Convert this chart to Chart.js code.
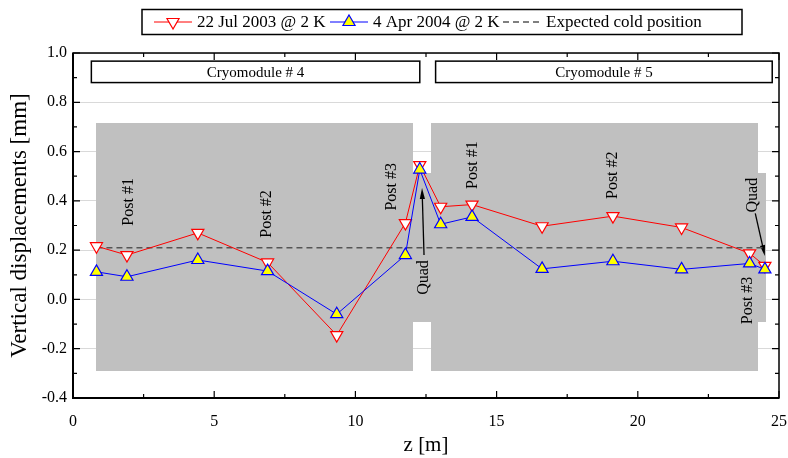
<!DOCTYPE html>
<html>
<head>
<meta charset="utf-8">
<script src="https://cdn.jsdelivr.net/npm/chart.js@4.4.1/dist/chart.umd.min.js"></script>
<style>
  html, body { margin: 0; padding: 0; background: #fff; }
  #wrap { width: 788px; height: 458px; }
</style>
</head>
<body>
<div id="wrap"><canvas id="chart" width="788" height="458"></canvas></div>
<script>
// positions along the string (m) - both measurements share them
const zPos = [0.83, 1.91, 4.42, 6.89, 9.34, 11.77, 12.28, 13.02, 14.13, 16.61, 19.12, 21.55, 23.96, 24.50];
const jul2003 = [0.216, 0.18, 0.27, 0.15, -0.145, 0.31, 0.545, 0.376, 0.385, 0.297, 0.338, 0.292, 0.187, 0.136];
const apr2004 = [0.112, 0.092, 0.16, 0.115, -0.06, 0.18, 0.527, 0.305, 0.335, 0.124, 0.155, 0.122, 0.146, 0.122];
const expectedZ = [0.83, 24.5];
const expectedDisp = [0.21, 0.21];
const seriesLabels = ['22 Jul 2003 @ 2 K', '4 Apr 2004 @ 2 K', 'Expected cold position'];

const xTicks = [0, 5, 10, 15, 20, 25];
const yTicks = [-0.4, -0.2, 0, 0.2, 0.4, 0.6, 0.8, 1.0];

// grey shaded cryomodule / quad regions (data units)
const blockStart = [0.83, 12.04, 12.66, 24.25];
const blockEnd = [12.04, 12.67, 24.25, 24.53];
const blockBottom = [-0.29, -0.091, -0.29, -0.091];
const blockTop = [0.714, 0.512, 0.714, 0.512];

const moduleNames = ['Cryomodule # 4', 'Cryomodule # 5'];
const moduleStart = [0.65, 12.84];
const moduleEnd = [12.28, 24.76];
const moduleBottom = 0.88;
const moduleTop = 0.967;

const notes = [
  { text: 'Post #1', z: 1.95, v: 0.396 },
  { text: 'Post #2', z: 6.81, v: 0.347 },
  { text: 'Post #3', z: 11.27, v: 0.457 },
  { text: 'Quad', z: 12.38, v: 0.089 },
  { text: 'Post #1', z: 14.13, v: 0.545 },
  { text: 'Post #2', z: 19.07, v: 0.504 },
  { text: 'Quad', z: 24.03, v: 0.423 },
  { text: 'Post #3', z: 23.86, v: -0.004 },
];
const arrows = [
  { from: [12.43, 0.18], to: [12.36, 0.452] },
  { from: [24.16, 0.349], to: [24.50, 0.176] },
];

const FONT = '"Liberation Serif", "Times New Roman", serif';

const toPoints = (xs, ys) => xs.map((x, i) => ({ x, y: ys[i] }));

function drawArrow(ctx, x1, y1, x2, y2) {
  const ang = Math.atan2(y2 - y1, x2 - x1);
  const len = 11, half = 2.6;
  ctx.beginPath();
  ctx.moveTo(x1, y1);
  ctx.lineTo(x2 - Math.cos(ang) * len * 0.8, y2 - Math.sin(ang) * len * 0.8);
  ctx.stroke();
  ctx.beginPath();
  ctx.moveTo(x2, y2);
  ctx.lineTo(x2 - Math.cos(ang) * len + Math.sin(ang) * half, y2 - Math.sin(ang) * len - Math.cos(ang) * half);
  ctx.lineTo(x2 - Math.cos(ang) * len - Math.sin(ang) * half, y2 - Math.sin(ang) * len + Math.cos(ang) * half);
  ctx.closePath();
  ctx.fill();
}

const backdrop = {
  id: 'backdrop',
  beforeDatasetsDraw(chart) {
    const { ctx, scales: { x, y } } = chart;
    ctx.save();
    ctx.fillStyle = '#c0c0c0';
    blockStart.forEach((s, i) => {
      const l = Math.round(x.getPixelForValue(s)), r = Math.round(x.getPixelForValue(blockEnd[i]));
      const t = Math.round(y.getPixelForValue(blockTop[i])), b = Math.round(y.getPixelForValue(blockBottom[i]));
      ctx.fillRect(l, t, r - l, b - t);
    });

    // module boxes
    ctx.lineWidth = 1.5;
    ctx.strokeStyle = '#000';
    ctx.font = '15px ' + FONT;
    ctx.textAlign = 'center';
    ctx.textBaseline = 'middle';
    moduleNames.forEach((name, i) => {
      const l = x.getPixelForValue(moduleStart[i]), r = x.getPixelForValue(moduleEnd[i]);
      const t = y.getPixelForValue(moduleTop), b = y.getPixelForValue(moduleBottom);
      ctx.fillStyle = '#fff';
      ctx.fillRect(l, t, r - l, b - t);
      ctx.strokeRect(l, t, r - l, b - t);
      ctx.fillStyle = '#000';
      ctx.fillText(name, (l + r) / 2, (t + b) / 2 + 1);
    });

    ctx.font = '16px ' + FONT;
    notes.forEach(n => {
      ctx.save();
      ctx.translate(x.getPixelForValue(n.z), y.getPixelForValue(n.v));
      ctx.rotate(-Math.PI / 2);
      ctx.fillText(n.text, 0, 1);
      ctx.restore();
    });

    ctx.lineWidth = 1.3;
    arrows.forEach(a => {
      drawArrow(ctx, x.getPixelForValue(a.from[0]), y.getPixelForValue(a.from[1]),
        x.getPixelForValue(a.to[0]), y.getPixelForValue(a.to[1]));
    });
    ctx.restore();
  }
};

const frame = {
  id: 'frame',
  afterDraw(chart) {
    const { ctx, chartArea: a, scales: { x, y } } = chart;
    ctx.save();
    ctx.strokeStyle = '#000';
    ctx.lineWidth = 1.5;
    ctx.strokeRect(a.left, a.top, a.right - a.left, a.bottom - a.top);
    ctx.lineWidth = 2;
    ctx.beginPath();
    ctx.moveTo(a.left, a.top);
    ctx.lineTo(a.left, a.bottom);
    ctx.lineTo(a.right, a.bottom);
    ctx.stroke();

    ctx.lineWidth = 1.2;
    const tickSet = (scale) => {
      const vals = scale.ticks.map(t => t.value);
      const minors = [];
      for (let i = 0; i < vals.length - 1; i++) minors.push((vals[i] + vals[i + 1]) / 2);
      return { vals, minors };
    };
    const xt = tickSet(x), yt = tickSet(y);
    ctx.beginPath();
    [[xt.vals, 7], [xt.minors, 4]].forEach(([vs, len]) => vs.forEach(v => {
      const px = x.getPixelForValue(v);
      ctx.moveTo(px, a.bottom); ctx.lineTo(px, a.bottom - len);
      ctx.moveTo(px, a.top); ctx.lineTo(px, a.top + len);
    }));
    [[yt.vals, 7], [yt.minors, 4]].forEach(([vs, len]) => vs.forEach(v => {
      const py = y.getPixelForValue(v);
      ctx.moveTo(a.left, py); ctx.lineTo(a.left + len, py);
      ctx.moveTo(a.right, py); ctx.lineTo(a.right - len, py);
    }));
    ctx.stroke();

    // legend box
    ctx.lineWidth = 1.5;
    ctx.strokeRect(142, 9.5, 600, 25);
    const starts = [154, 330, 503];
    const yc = 22;
    chart.data.datasets.forEach((ds, i) => {
      const x0 = starts[i];
      ctx.save();
      ctx.beginPath();
      ctx.strokeStyle = ds.borderColor;
      ctx.lineWidth = ds.borderWidth;
      ctx.setLineDash(ds.borderDash || []);
      ctx.moveTo(x0, yc);
      ctx.lineTo(x0 + 38, yc);
      ctx.stroke();
      ctx.setLineDash([]);
      if (ds.pointRadius) {
        ctx.fillStyle = ds.pointBackgroundColor;
        ctx.strokeStyle = ds.pointBorderColor;
        ctx.lineWidth = ds.pointBorderWidth;
        Chart.helpers.drawPoint(ctx, {
          pointStyle: ds.pointStyle, rotation: ds.rotation || 0,
          radius: ds.pointRadius, borderWidth: ds.pointBorderWidth
        }, x0 + 19, yc);
      }
      ctx.restore();
      ctx.fillStyle = '#000';
      ctx.font = '17px ' + FONT;
      ctx.textAlign = 'left';
      ctx.textBaseline = 'middle';
      ctx.fillText(ds.label, x0 + 43, yc + 1);
    });
    ctx.restore();
  }
};

new Chart(document.getElementById('chart'), {
  type: 'scatter',
  data: {
    datasets: [
      {
        label: seriesLabels[0],
        data: toPoints(zPos, jul2003),
        showLine: true,
        borderColor: '#ff0000',
        borderWidth: 1,
        pointStyle: 'triangle',
        rotation: 180,
        pointRadius: 7,
        pointBackgroundColor: '#ffffff',
        pointBorderColor: '#ff0000',
        pointBorderWidth: 1.2,
        order: 2,
      },
      {
        label: seriesLabels[1],
        data: toPoints(zPos, apr2004),
        showLine: true,
        borderColor: '#0000ff',
        borderWidth: 1,
        pointStyle: 'triangle',
        pointRadius: 7,
        pointBackgroundColor: '#ffff00',
        pointBorderColor: '#0000ff',
        pointBorderWidth: 1.2,
        order: 1,
      },
      {
        label: seriesLabels[2],
        data: toPoints(expectedZ, expectedDisp),
        showLine: true,
        borderColor: '#555555',
        borderWidth: 1.5,
        borderDash: [6, 4],
        pointRadius: 0,
        order: 3,
      },
    ],
  },
  options: {
    responsive: false,
    animation: false,
    layout: { padding: { top: 53, right: 9, left: 0, bottom: 0 } },
    plugins: { legend: { display: false }, tooltip: { enabled: false } },
    scales: {
      x: {
        type: 'linear',
        min: 0,
        max: 25,
        afterBuildTicks: s => { s.ticks = xTicks.map(v => ({ value: v })); },
        afterFit: s => { s.height = 60; s.paddingLeft = 0; s.paddingRight = 0; },
        grid: { display: false },
        border: { display: false },
        ticks: { color: '#000', padding: 6, font: { family: FONT, size: 16 } },
        title: { display: true, text: 'z [m]', color: '#000', padding: { top: 0, bottom: 0 }, font: { family: FONT, size: 21 } },
      },
      y: {
        min: -0.4,
        max: 1.0,
        afterBuildTicks: s => { s.ticks = yTicks.map(v => ({ value: v })); },
        afterFit: s => { s.width = 73; },
        grid: { color: '#d9d9d9', lineWidth: 1, drawTicks: false },
        border: { display: false },
        ticks: { color: '#000', padding: 6, font: { family: FONT, size: 16 }, callback: v => v.toFixed(1) },
        title: { display: true, text: 'Vertical displacements [mm]', color: '#000', padding: { top: 6, bottom: 0 }, font: { family: FONT, size: 23 } },
      },
    },
  },
  plugins: [backdrop, frame],
});
</script>
</body>
</html>
